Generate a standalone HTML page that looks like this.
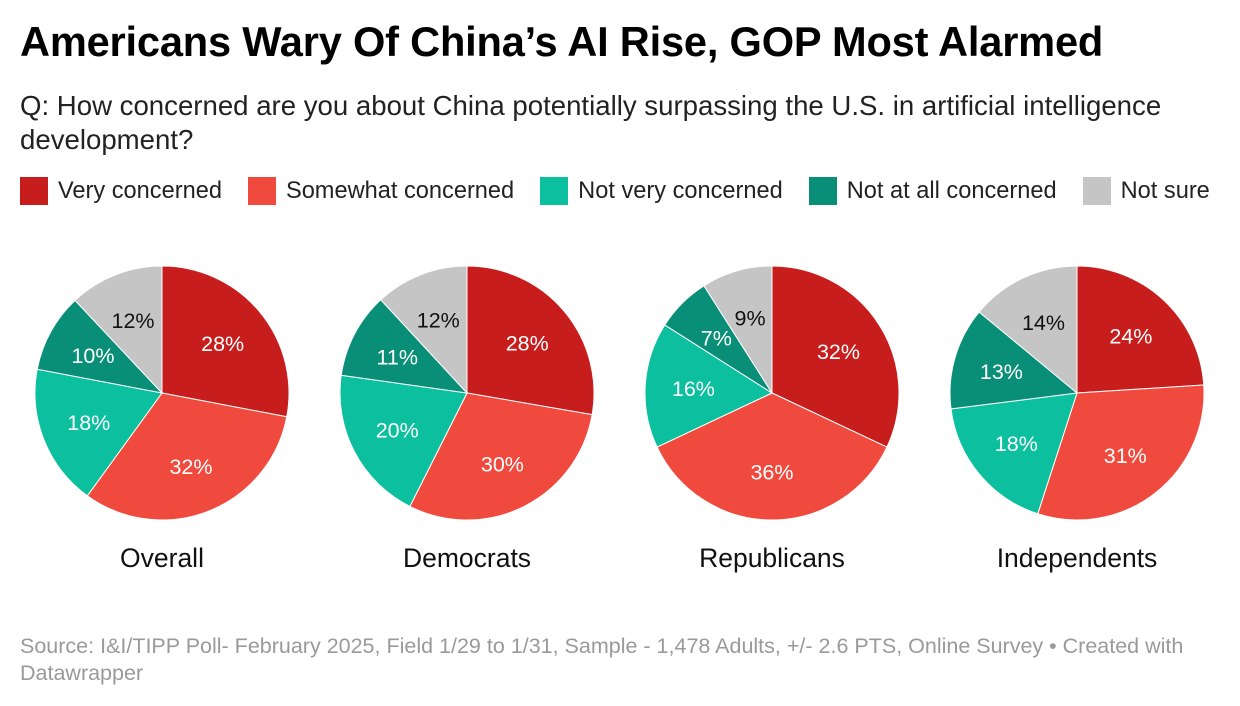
<!DOCTYPE html>
<html><head><meta charset="utf-8">
<style>
body{margin:0;width:1240px;height:706px;background:#fff;font-family:"Liberation Sans",sans-serif;overflow:hidden;position:relative}
#title{position:absolute;left:20px;top:18px;font-size:41.6px;font-weight:bold;color:#000;letter-spacing:-0.2px;white-space:nowrap}
#sub{position:absolute;left:20px;top:89px;font-size:27.6px;color:#222;line-height:34px;width:1200px}
#legend{position:absolute;left:20px;top:177px;font-size:23.6px;color:#222;display:flex;white-space:nowrap}
.li{display:flex;align-items:center;margin-right:26px}
.sw{width:28px;height:28px;margin-right:10px}
#foot{position:absolute;left:20px;top:633px;font-size:21.5px;color:#9a9a9a;line-height:27px;width:1200px}
svg{position:absolute;left:0;top:0}
</style></head><body>
<div id="title">Americans Wary Of China’s AI Rise, GOP Most Alarmed</div>
<div id="sub">Q: How concerned are you about China potentially surpassing the U.S. in artificial intelligence development?</div>
<div id="legend">
<div class="li"><div class="sw" style="background:#c71e1d"></div>Very concerned</div>
<div class="li"><div class="sw" style="background:#f04a3e"></div>Somewhat concerned</div>
<div class="li"><div class="sw" style="background:#0cbf9f"></div>Not very concerned</div>
<div class="li"><div class="sw" style="background:#098f77"></div>Not at all concerned</div>
<div class="li"><div class="sw" style="background:#c5c5c5"></div>Not sure</div>
</div>
<svg id="chart" width="1240" height="706"></svg>
<div id="foot">Source: I&amp;I/TIPP Poll- February 2025, Field 1/29 to 1/31, Sample - 1,478 Adults, +/- 2.6 PTS, Online Survey • Created with Datawrapper</div>
<script>
const groups=["Overall","Democrats","Republicans","Independents"];
const veryConcerned=[28,28,32,24];
const somewhatConcerned=[32,30,36,31];
const notVery=[18,20,16,18];
const notAtAll=[10,11,7,13];
const notSure=[12,12,9,14];
const colors=["#c71e1d","#f04a3e","#0cbf9f","#098f77","#c5c5c5"];
const labelColors=["#fff","#fff","#fff","#fff","#111"];
const names=["very","somewhat","not-very","not-at-all","not-sure"];
const svg=document.getElementById('chart');
const NS="http://www.w3.org/2000/svg";
const R=127, CY=393;
function cx(i){return 162+i*305;}
groups.forEach((g,i)=>{
  const vals=[veryConcerned[i],somewhatConcerned[i],notVery[i],notAtAll[i],notSure[i]];
  const tot=vals.reduce((a,b)=>a+b,0);
  let a0=0;
  const c=cx(i);
  vals.forEach((v,k)=>{
    const a1=a0+v/tot*2*Math.PI;
    const p=a=>[c+R*Math.sin(a),CY-R*Math.cos(a)];
    const [x0,y0]=p(a0),[x1,y1]=p(a1);
    const path=document.createElementNS(NS,'path');
    path.setAttribute('d',`M${c},${CY}L${x0},${y0}A${R},${R} 0 ${a1-a0>Math.PI?1:0} 1 ${x1},${y1}Z`);
    path.setAttribute('fill',colors[k]);
    path.setAttribute('stroke','#fff');
    path.setAttribute('stroke-width','1');
    
    
    svg.appendChild(path);
    const am=(a0+a1)/2, lr=R*0.62;
    const t=document.createElementNS(NS,'text');
    t.setAttribute('x',c+lr*Math.sin(am));
    t.setAttribute('y',CY-lr*Math.cos(am)+8);
    t.setAttribute('text-anchor','middle');
    t.setAttribute('font-size','21.5');
    t.setAttribute('fill',labelColors[k]);
    t.setAttribute('font-family','Liberation Sans, sans-serif');
    
    
    t.textContent=v+'%';
    svg.appendChild(t);
    a0=a1;
  });
  const gt=document.createElementNS(NS,'text');
  gt.setAttribute('x',c);gt.setAttribute('y',567);
  gt.setAttribute('text-anchor','middle');gt.setAttribute('font-size','26.5');
  gt.setAttribute('fill','#111');gt.setAttribute('font-family','Liberation Sans, sans-serif');
  
  
  gt.textContent=g;
  svg.appendChild(gt);
});
</script>
</body></html>
